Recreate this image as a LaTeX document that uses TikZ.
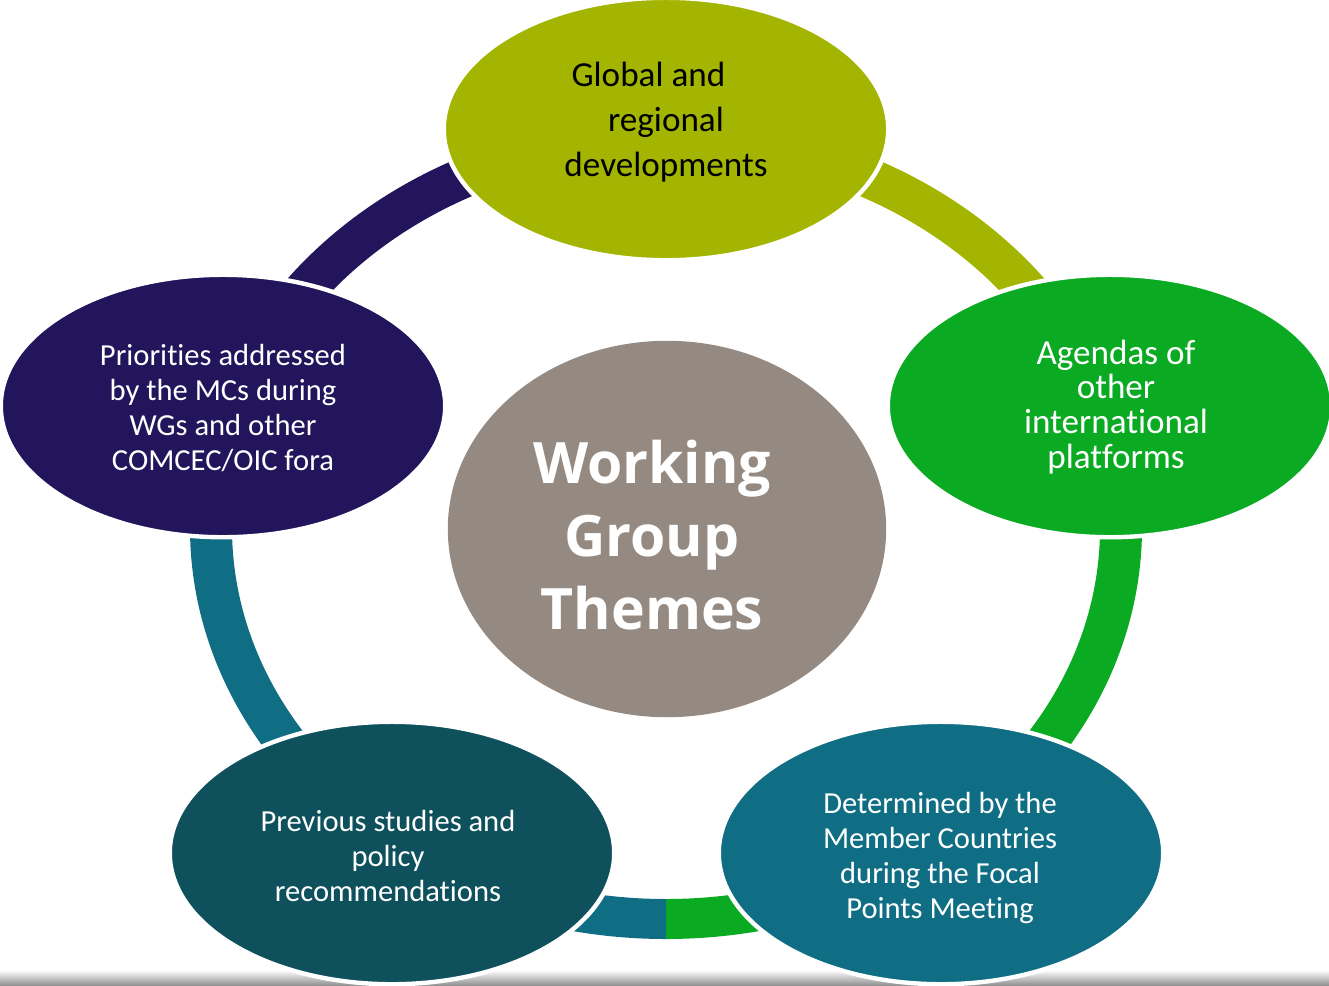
\documentclass[tikz,border=0pt]{standalone}
\usepackage{fontspec}
\setmainfont{Carlito}[Ligatures=NoCommon]
\newfontfamily\themefont{Open Sans}
\usetikzlibrary{shapes.geometric}
\definecolor{topolive}{RGB}{163,181,0}
\definecolor{agendagreen}{RGB}{11,170,35}
\definecolor{memberteal}{RGB}{16,110,132}
\definecolor{studyteal}{RGB}{14,81,92}
\definecolor{mcpurple}{RGB}{34,21,92}
\definecolor{hubgray}{RGB}{149,138,130}
\tikzset{theme/.style={ellipse, draw=white, line width=2.5pt, inner sep=0pt,
         minimum width=8.89cm, minimum height=5.25cm},
         themetext/.style={align=center, inner sep=0pt, text=white,
         font=\fontsize{17.4}{19.8}\selectfont},
         hub/.style={ellipse, fill=hubgray, inner sep=0pt,
         minimum width=8.77cm, minimum height=7.53cm}}

\begin{document}
\begin{tikzpicture}[x=0.02cm, y=-0.02cm]
        \useasboundingbox (0,0) rectangle (1329,985);
        
        % shadow at the bottom
        \shade[top color=white, bottom color=gray!85] (0,970) rectangle (1329,985);
        
        % Ring
        \foreach \from/\to/\col in {-18/90/agendagreen, 90/198/memberteal,
                                    198/270/mcpurple, 270/342/topolive}
          \fill[\col, shift={(666,528)}] (\from:476 and 411)
              arc[start angle=\from, end angle=\to, x radius=476, y radius=411]
              -- (\to:434 and 371)
              arc[start angle=\to, end angle=\from, x radius=434, y radius=371] -- cycle;
        
        % Themes
        \node[theme, fill=topolive] (global) at (666,129) {};
        \node[theme, fill=agendagreen] (agendas) at (1110,406) {};
        \node[theme, fill=memberteal] (member) at (941,853) {};
        \node[theme, fill=studyteal] (studies) at (392,853) {};
        \node[theme, fill=mcpurple] (priorities) at (223,406) {};
        \node[hub] (wgt) at (667,529) {};
        
        % Texts
        \node[themetext, text=black, font=\fontsize{20}{25.5}\selectfont] (global-t) at (666,122)
             {Global and\hspace*{1em}\\regional\\developments};
        \node[themetext, font=\fontsize{20}{19.8}\selectfont] (agendas-t) at (1116,407)
             {Agendas of\\other\\international\\platforms};
        \node[themetext] (member-t) at (940,858)
             {Determined by the\\Member Countries\\during the Focal\\Points Meeting};
        \node[themetext] (studies-t) at (388,856)
             {Previous studies and\\policy\\recommendations};
        \node[themetext] (priorities-t) at (223,408)
             {Priorities addressed\\by the MCs during\\WGs and other\\COMCEC/OIC fora};
        \node[themetext, font=\themefont\bfseries\fontsize{32.5}{41.4}\selectfont] (wgt-t) at (652,535)
             {Working\\Group\\Themes};
        
    \end{tikzpicture}
\end{document}
